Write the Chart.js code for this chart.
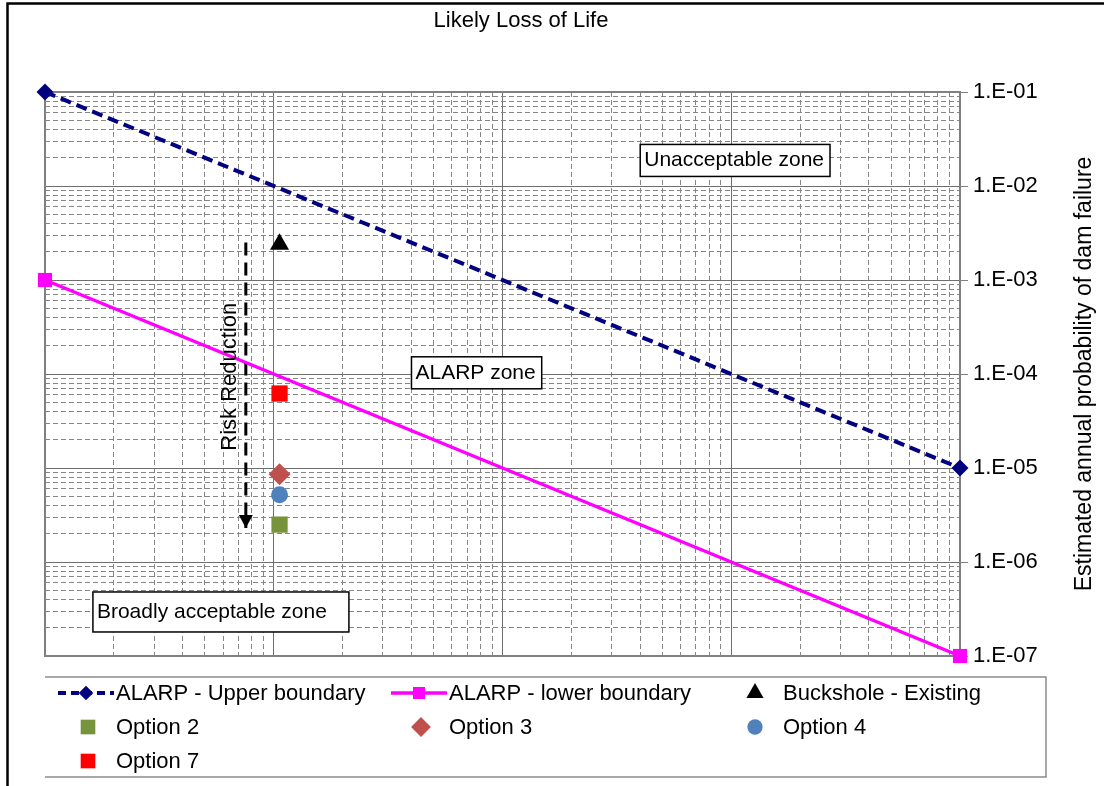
<!DOCTYPE html>
<html>
<head>
<meta charset="utf-8">
<script src="https://cdn.jsdelivr.net/npm/chart.js@4.4.1/dist/chart.umd.min.js"></script>
<style>
  html, body { margin: 0; padding: 0; background: #fff; }
  #wrap { width: 1104px; height: 786px; position: relative; }
</style>
</head>
<body>
<div id="wrap"><canvas id="riskChart"></canvas></div>
<script>
// likely loss of life (x, log) vs estimated annual probability of failure (y, log)
const boundaryX = [1, 10000];
const upperBoundary = [1e-1, 1e-5];
const lowerBoundary = [1e-3, 1e-7];

const pointLabels = ['Buckshole - Existing', 'Option 2', 'Option 3', 'Option 4', 'Option 7'];
const pointX = [10.6, 10.6, 10.6, 10.6, 10.6];
const pointY = [2.4e-3, 2.5e-6, 8.6e-6, 5.2e-6, 6.2e-5];

// risk reduction arrow, from existing down towards the options
const arrowX = [7.55, 7.55];
const arrowY = [2.5e-3, 2.3e-6];

const yTickValues = [1e-7, 1e-6, 1e-5, 1e-4, 1e-3, 1e-2, 1e-1];
const yTickLabels = ['1.E-07', '1.E-06', '1.E-05', '1.E-04', '1.E-03', '1.E-02', '1.E-01'];

const zoneLabels = ['Unacceptable zone', 'ALARP zone', 'Broadly acceptable zone'];
const zoneX = [400, 40, 1.62];
const zoneY = [1.87e-2, 1.03e-4, 2.94e-7];

const FONT = "'Liberation Sans', Arial, sans-serif";

const pointStyles = {
  'Buckshole - Existing': { color: '#000000', style: 'triangle', radius: 11 },
  'Option 2': { color: '#77933c', style: 'rect', radius: 11.5 },
  'Option 3': { color: '#c0504d', style: 'rectRot', radius: 11 },
  'Option 4': { color: '#4f81bd', style: 'circle', radius: 8.5 },
  'Option 7': { color: '#ff0000', style: 'rect', radius: 11.5 }
};

function xy(xs, ys) {
  return xs.map((x, i) => ({ x: x, y: ys[i] }));
}

function logTicks(min, max) {
  const ticks = [];
  const e0 = Math.round(Math.log10(min));
  const e1 = Math.round(Math.log10(max));
  for (let e = e0; e < e1; e++) {
    for (let m = 1; m < 10; m++) {
      ticks.push({ value: m * Math.pow(10, e), major: m === 1 });
    }
  }
  ticks.push({ value: max, major: true });
  return ticks;
}

function isMajor(ctx) {
  return ctx.tick ? !!ctx.tick.major : true;
}

const datasets = [
  {
    label: 'ALARP - Upper boundary',
    data: xy(boundaryX, upperBoundary),
    showLine: true,
    borderColor: '#000080',
    backgroundColor: '#000080',
    borderWidth: 4,
    borderDash: [11, 6],
    pointStyle: 'rectRot',
    pointRadius: 8.5,
    pointBorderWidth: 0,
    clip: false
  },
  {
    label: 'ALARP - lower boundary',
    data: xy(boundaryX, lowerBoundary),
    showLine: true,
    borderColor: '#ff00ff',
    backgroundColor: '#ff00ff',
    borderWidth: 3.5,
    pointStyle: 'rect',
    pointRadius: 10,
    pointBorderWidth: 0,
    clip: false
  }
];

pointLabels.forEach((label, i) => {
  const s = pointStyles[label];
  datasets.push({
    label: label,
    data: [{ x: pointX[i], y: pointY[i] }],
    showLine: false,
    borderColor: s.color,
    backgroundColor: s.color,
    pointStyle: s.style,
    pointRadius: s.radius,
    pointBorderWidth: 0,
    clip: false
  });
});

datasets.push({
  label: 'Risk Reduction',
  data: xy(arrowX, arrowY),
  showLine: true,
  borderColor: '#000000',
  borderWidth: 3,
  borderDash: [13, 7],
  pointRadius: 0,
  clip: false,
  isArrow: true
});

function drawMarker(ctx, ds, x, y, scale) {
  ctx.save();
  ctx.setLineDash([]);
  ctx.fillStyle = ds.backgroundColor;
  ctx.strokeStyle = ds.backgroundColor;
  Chart.helpers.drawPoint(ctx, {
    pointStyle: ds.pointStyle,
    radius: ds.pointRadius * scale,
    rotation: 0,
    borderWidth: 0
  }, x, y);
  ctx.restore();
}

const decorPlugin = {
  id: 'decor',
  beforeDatasetsDraw(chart) {
    const { ctx, chartArea: a } = chart;
    ctx.save();
    ctx.strokeStyle = '#808080';
    ctx.lineWidth = 2;
    ctx.strokeRect(a.left, a.top, a.right - a.left, a.bottom - a.top);
    ctx.restore();
  },
  afterDatasetsDraw(chart) {
    const ctx = chart.ctx;
    const xs = chart.scales.x;
    const ys = chart.scales.y;

    // arrow head at the end of the risk reduction line
    const arrowIdx = chart.data.datasets.findIndex(d => d.isArrow);
    const pts = chart.getDatasetMeta(arrowIdx).data;
    const tip = pts[pts.length - 1];
    ctx.save();
    ctx.fillStyle = '#000';
    ctx.beginPath();
    ctx.moveTo(tip.x, tip.y);
    ctx.lineTo(tip.x - 7, tip.y - 13);
    ctx.lineTo(tip.x + 7, tip.y - 13);
    ctx.closePath();
    ctx.fill();
    ctx.restore();

    // zone labels in boxes
    const boxExtra = [10, 10, 26];
    const boxH = [32, 32, 40];
    ctx.save();
    ctx.font = '21px ' + FONT;
    ctx.textBaseline = 'middle';
    zoneLabels.forEach((t, i) => {
      const px = xs.getPixelForValue(zoneX[i]);
      const py = ys.getPixelForValue(zoneY[i]);
      const w = ctx.measureText(t).width + boxExtra[i];
      const h = boxH[i];
      ctx.fillStyle = '#fff';
      ctx.fillRect(px, py - h / 2, w, h);
      ctx.strokeStyle = '#000';
      ctx.lineWidth = 1.5;
      ctx.strokeRect(px, py - h / 2, w, h);
      ctx.fillStyle = '#000';
      ctx.textAlign = 'left';
      ctx.fillText(t, px + 4, py);
    });
    ctx.restore();

    // risk reduction text
    ctx.save();
    ctx.font = '22px ' + FONT;
    ctx.fillStyle = '#000';
    ctx.textAlign = 'center';
    ctx.textBaseline = 'middle';
    ctx.translate(xs.getPixelForValue(6.43), ys.getPixelForValue(9.35e-5));
    ctx.rotate(-Math.PI / 2);
    ctx.fillText('Risk Reduction', 0, 0);
    ctx.restore();
  },
  afterDraw(chart) {
    const ctx = chart.ctx;
    ctx.save();

    // outer frame (only top and left edges fall inside the picture)
    ctx.strokeStyle = '#000';
    ctx.lineWidth = 2.5;
    ctx.beginPath();
    ctx.moveTo(7.5, 800);
    ctx.lineTo(7.5, 3.5);
    ctx.lineTo(1110, 3.5);
    ctx.stroke();

    // title
    ctx.fillStyle = '#000';
    ctx.font = '22px ' + FONT;
    ctx.textAlign = 'center';
    ctx.textBaseline = 'middle';
    ctx.fillText('Likely Loss of Life', 521, 21);

    // right axis title
    ctx.save();
    ctx.font = '23px ' + FONT;
    ctx.translate(1085, 374);
    ctx.rotate(-Math.PI / 2);
    ctx.fillText('Estimated annual probability of dam failure', 0, 0);
    ctx.restore();

    // legend box (top, right, bottom edges)
    ctx.strokeStyle = '#8c8c8c';
    ctx.lineWidth = 1.5;
    ctx.beginPath();
    ctx.moveTo(45, 677);
    ctx.lineTo(1046, 677);
    ctx.lineTo(1046, 777);
    ctx.lineTo(45, 777);
    ctx.stroke();

    const colText = [116, 449, 783];
    const rowY = [693, 727, 761];
    const items = chart.data.datasets.filter(d => !d.isArrow);
    ctx.font = '22px ' + FONT;
    ctx.textAlign = 'left';
    items.forEach((ds, i) => {
      const col = i % 3;
      const row = Math.floor(i / 3);
      const tx = colText[col];
      const ty = rowY[row];
      if (ds.showLine) {
        ctx.save();
        ctx.strokeStyle = ds.borderColor;
        ctx.lineWidth = ds.borderWidth;
        ctx.setLineDash(ds.borderDash ? [8, 5] : []);
        ctx.beginPath();
        ctx.moveTo(tx - 58, ty);
        ctx.lineTo(tx - 2, ty);
        ctx.stroke();
        ctx.restore();
        drawMarker(ctx, ds, tx - 30, ty, 0.85);
      } else {
        drawMarker(ctx, ds, tx - 28, ty, 0.9);
      }
      ctx.fillStyle = '#000';
      ctx.fillText(ds.label, tx, ty + 1);
    });

    ctx.restore();
  }
};

new Chart(document.getElementById('riskChart').getContext('2d'), {
  type: 'scatter',
  data: { datasets: datasets },
  options: {
    responsive: true,
    maintainAspectRatio: false,
    animation: false,
    layout: { padding: { left: 45, top: 92, bottom: 130, right: 0 } },
    scales: {
      x: {
        type: 'logarithmic',
        min: boundaryX[0],
        max: boundaryX[1],
        afterBuildTicks: (scale) => { scale.ticks = logTicks(boundaryX[0], boundaryX[1]); },
        afterFit: (scale) => { scale.height = 0; },
        ticks: { display: false, autoSkip: false },
        grid: {
          drawTicks: false,
          color: (c) => isMajor(c) ? '#6e6e6e' : '#858585',
          lineWidth: 1
        },
        border: { display: false, dash: (c) => isMajor(c) ? [] : [5, 3] }
      },
      y: {
        type: 'logarithmic',
        position: 'right',
        min: yTickValues[0],
        max: yTickValues[yTickValues.length - 1],
        afterBuildTicks: (scale) => { scale.ticks = logTicks(yTickValues[0], yTickValues[yTickValues.length - 1]); },
        afterFit: (scale) => { scale.width = 144; },
        ticks: {
          autoSkip: false,
          padding: 5,
          color: '#000',
          font: { family: FONT, size: 22 },
          callback: function (value, index, ticks) {
            if (!ticks[index].major) return '';
            const i = yTickValues.findIndex(v => Math.abs(Math.log10(v) - Math.log10(value)) < 1e-6);
            return i >= 0 ? yTickLabels[i] : '';
          }
        },
        grid: {
          drawTicks: true,
          tickLength: 8,
          tickColor: (c) => isMajor(c) ? '#808080' : 'rgba(0,0,0,0)',
          color: (c) => isMajor(c) ? '#6e6e6e' : '#858585',
          lineWidth: 1
        },
        border: { display: false, dash: (c) => isMajor(c) ? [] : [5, 3] }
      }
    },
    plugins: {
      legend: { display: false },
      title: { display: false },
      tooltip: { enabled: false }
    }
  },
  plugins: [decorPlugin]
});
</script>
</body>
</html>
